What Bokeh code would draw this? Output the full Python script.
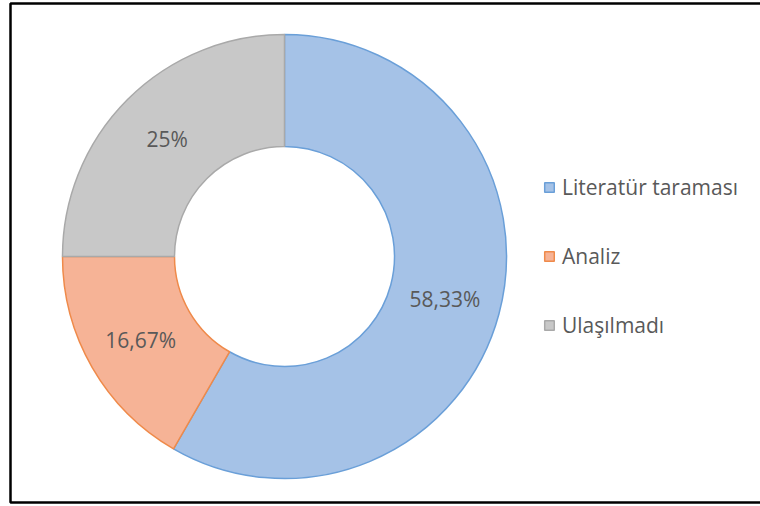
import numpy as np
from bokeh.plotting import figure
from bokeh.models import ColumnDataSource, Legend, LegendItem, Range1d
from bokeh.core.properties import value
from bokeh.embed import file_html
from bokeh.resources import INLINE

categories = ["Literatür taraması", "Analiz", "Ulaşılmadı"]
shares = [58.33, 16.67, 25.0]
labels = ["58,33%", "16,67%", "25%"]
fills = ["#a5c2e7", "#f6b396", "#c8c8c8"]
edges = ["#6a9fd8", "#ef8a4a", "#a9a9a9"]

W, H = 760, 504
cx, cy = 284, H - 256
r_out, r_in = 222, 110

vals = np.array(shares)
frac = vals / vals.sum()
ends = np.cumsum(frac) * 2 * np.pi
starts = ends - frac * 2 * np.pi
start_ang = np.pi / 2 - starts
end_ang = np.pi / 2 - ends
mid = (start_ang + end_ang) / 2
r_lab = (r_out + r_in) / 2

src = ColumnDataSource(dict(
    cat=categories, start=start_ang, end=end_ang, fill=fills, edge=edges,
    lx=cx + r_lab * np.cos(mid), ly=cy + r_lab * np.sin(mid), lab=labels,
))

p = figure(width=W, height=H, output_backend="svg", toolbar_location=None,
           x_range=Range1d(0, W), y_range=Range1d(0, H), min_border=0)
p.axis.visible = False
p.grid.visible = False
p.outline_line_color = None
p.background_fill_color = "white"
p.border_fill_color = "white"

# chart border box
p.quad(left=[10], right=[W + 40], bottom=[2], top=[H - 3],
       fill_color=None, line_color="black", line_width=2.5)

p.annular_wedge(x=cx, y=cy, inner_radius=r_in, outer_radius=r_out,
                inner_radius_units="screen", outer_radius_units="screen",
                start_angle="start", end_angle="end", direction="clock",
                fill_color="fill", line_color="edge", line_width=1.5,
                source=src)

p.text(x="lx", y="ly", text="lab", source=src, text_align="center",
       text_baseline="middle", text_color="#595959",
       text_font=value("Open Sans"), text_font_size="21px")

items = []
for c, f, e in zip(categories, fills, edges):
    r = p.quad(left=[np.nan], right=[np.nan], bottom=[np.nan], top=[np.nan],
               fill_color=f, line_color=e, line_width=1.5)
    items.append(LegendItem(label=c, renderers=[r]))

leg = Legend(items=items, location=(543, 165), orientation="vertical",
             glyph_width=12, glyph_height=12, label_standoff=7,
             label_text_font="Open Sans", label_text_font_size="21px",
             label_text_color="#595959", label_height=20, spacing=41,
             padding=0, margin=0, border_line_color=None,
             background_fill_alpha=0)
p.add_layout(leg, "center")

open("out.html", "w").write(file_html(p, INLINE))
